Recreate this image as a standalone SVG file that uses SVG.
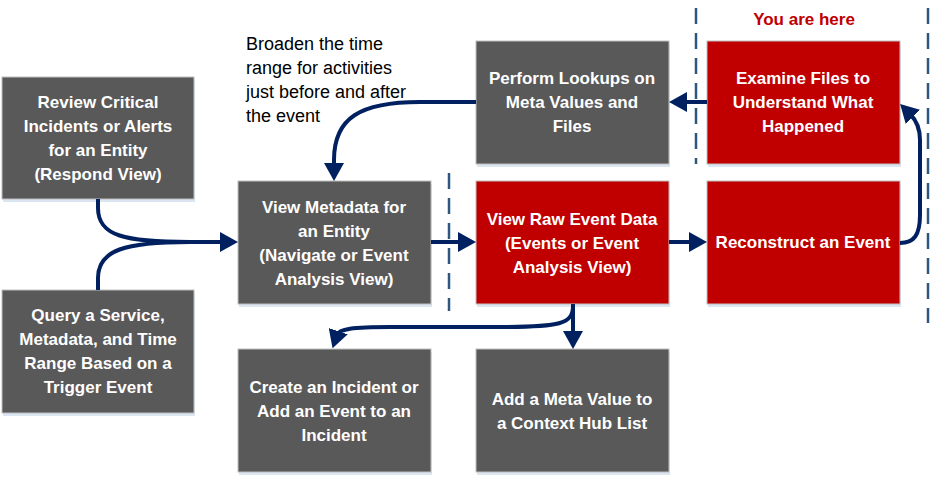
<svg xmlns="http://www.w3.org/2000/svg" width="930" height="477" viewBox="0 0 930 477">
<style>
.box rect.b{stroke:#bfbfbf;stroke-width:1}
.gray{fill:#595959}
.red{fill:#c00000}
.sh{fill:#dce6f2}
.t{font-family:"Liberation Sans",Arial,sans-serif;font-size:17px;font-weight:bold;fill:#ffffff;text-anchor:middle}
.note{font-family:"Liberation Sans",Arial,sans-serif;font-size:18px;fill:#000000}
.here{font-family:"Liberation Sans",Arial,sans-serif;font-size:17px;font-weight:bold;fill:#c00000;text-anchor:middle}
.c{fill:none;stroke:#002060;stroke-width:4}
.d{fill:none;stroke:#2e5780;stroke-width:2.5;stroke-dasharray:16 9}
</style>
<defs>
<marker id="ah" markerUnits="userSpaceOnUse" viewBox="0 0 18 20" refX="4" refY="10" markerWidth="18" markerHeight="20" orient="auto">
<path d="M0,0 L18,10 L0,20 z" fill="#002060"/>
</marker>
</defs>
<rect width="930" height="477" fill="#ffffff"/>
<g id="dividers">
<line class="d" x1="696" y1="8" x2="696" y2="164"/>
<line class="d" x1="928" y1="8" x2="928" y2="323"/>
<line class="d" x1="449" y1="173" x2="449" y2="311"/>
</g>
<text class="here" x="804" y="25">You are here</text>
<g id="note">
<text class="note" x="246" y="50">Broaden the time</text>
<text class="note" x="246" y="74">range for activities</text>
<text class="note" x="246" y="98">just before and after</text>
<text class="note" x="246" y="122">the event</text>
</g>
<g id="n-review" class="box">
<rect class="sh" x="3" y="80" width="192" height="122"/>
<rect class="b gray" x="2" y="77" width="192" height="122"/>
<text class="t" x="98" y="108">Review Critical</text>
<text class="t" x="98" y="132">Incidents or Alerts</text>
<text class="t" x="98" y="156">for an Entity</text>
<text class="t" x="98" y="180">(Respond View)</text>
</g>
<g id="n-query" class="box">
<rect class="sh" x="3" y="293" width="192" height="123"/>
<rect class="b gray" x="2" y="290" width="192" height="123"/>
<text class="t" x="98" y="321">Query a Service,</text>
<text class="t" x="98" y="345">Metadata, and Time</text>
<text class="t" x="98" y="369">Range Based on a</text>
<text class="t" x="98" y="393">Trigger Event</text>
</g>
<g id="n-viewmeta" class="box">
<rect class="sh" x="239" y="184" width="193" height="123"/>
<rect class="b gray" x="238" y="181" width="193" height="123"/>
<text class="t" x="334" y="213">View Metadata for</text>
<text class="t" x="334" y="237">an Entity</text>
<text class="t" x="334" y="261">(Navigate or Event</text>
<text class="t" x="334" y="285">Analysis View)</text>
</g>
<g id="n-create" class="box">
<rect class="sh" x="239" y="352" width="193" height="123"/>
<rect class="b gray" x="238" y="349" width="193" height="123"/>
<text class="t" x="334" y="393">Create an Incident or</text>
<text class="t" x="334" y="417">Add an Event to an</text>
<text class="t" x="334" y="441">Incident</text>
</g>
<g id="n-lookups" class="box">
<rect class="sh" x="477" y="44" width="193" height="123"/>
<rect class="b gray" x="476" y="41" width="193" height="123"/>
<text class="t" x="572" y="84">Perform Lookups on</text>
<text class="t" x="572" y="108">Meta Values and</text>
<text class="t" x="572" y="132">Files</text>
</g>
<g id="n-raw" class="box">
<rect class="sh" x="477" y="184" width="193" height="123"/>
<rect class="b red" x="476" y="181" width="193" height="123"/>
<text class="t" x="572" y="225">View Raw Event Data</text>
<text class="t" x="572" y="249">(Events or Event</text>
<text class="t" x="572" y="273">Analysis View)</text>
</g>
<g id="n-addmeta" class="box">
<rect class="sh" x="477" y="352" width="193" height="123"/>
<rect class="b gray" x="476" y="349" width="193" height="123"/>
<text class="t" x="572" y="405">Add a Meta Value to</text>
<text class="t" x="572" y="429">a Context Hub List</text>
</g>
<g id="n-examine" class="box">
<rect class="sh" x="708" y="44" width="193" height="123"/>
<rect class="b red" x="707" y="41" width="193" height="123"/>
<text class="t" x="803" y="84">Examine Files to</text>
<text class="t" x="803" y="108">Understand What</text>
<text class="t" x="803" y="132">Happened</text>
</g>
<g id="n-reconstruct" class="box">
<rect class="sh" x="708" y="184" width="193" height="123"/>
<rect class="b red" x="707" y="181" width="193" height="123"/>
<text class="t" x="803" y="248">Reconstruct an Event</text>
</g>
<g id="connectors">
<path class="c" d="M98,199 V208 C98,236 125,242 190,242 H224" marker-end="url(#ah)"/>
<path class="c" d="M98,290 V278 C98,250 125,242 190,242"/>
<path class="c" d="M431,242 H462" marker-end="url(#ah)"/>
<path class="c" d="M669,242 H693" marker-end="url(#ah)"/>
<path class="c" d="M900,243 C914,243 920,235 920,215 V140 C920,128 916,120 910,114" marker-end="url(#ah)"/>
<path class="c" d="M707,102 H683" marker-end="url(#ah)"/>
<path class="c" d="M476,102 H420 C360,102 334,118 334,160 V167" marker-end="url(#ah)"/>
<path class="c" d="M573,304 V335" marker-end="url(#ah)"/>
<path class="c" d="M573,306 C573,324 560,327 500,327 H390 C352,327 339,329 337,335" marker-end="url(#ah)"/>
</g>
</svg>
